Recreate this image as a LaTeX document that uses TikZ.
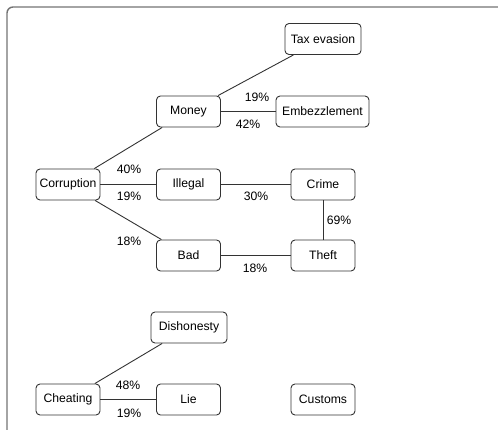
\documentclass[tikz,border=0pt]{standalone}
\usepackage{fontspec}
\setmainfont{Liberation Sans}
\tikzset{
  word/.style={draw=black!80, line width=0.9pt, rounded corners=4pt, minimum width=64pt, minimum height=31pt, inner sep=1pt, font=\fontsize{12.2}{14}\selectfont},
  link/.style={draw=black!80, line width=0.9pt},
  pct/.style={font=\fontsize{12.2}{14}\selectfont}
}
\begin{document}
\begin{tikzpicture}[x=1pt,y=-1pt]
\useasboundingbox (0,0) rectangle (498,430);
\draw[gray!90!black, line width=1.4pt, rounded corners=6pt] (7,431) -- (7,7) -- (499,7);
% nodes
\node[word, minimum width=76pt] (tax) at (323,39) {Tax evasion};
\node[word] (money) at (188.5,111.5) {Money};
\node[word, minimum width=93pt] (embez) at (322.5,111.5) {Embezzlement};
\node[word] (corr) at (68,184.5) {Corruption};
\node[word] (illegal) at (188.5,184.5) {Illegal};
\node[word] (crime) at (323,184.5) {Crime};
\node[word] (bad) at (188.5,255.5) {Bad};
\node[word] (theft) at (323,255.5) {Theft};
\node[word, minimum width=76pt] (dish) at (189,327.5) {Dishonesty};
\node[word] (cheat) at (68,399.5) {Cheating};
\node[word] (lie) at (188.5,399.5) {Lie};
\node[word] (customs) at (323,399.5) {Customs};
% links
\foreach \a/\b in {money/tax,money/embez,corr/money,corr/illegal,corr/bad,illegal/crime,crime/theft,bad/theft,cheat/dish,cheat/lie}
  \draw[link] (\a) -- (\b);
% percentages
\foreach \x/\y/\t in {257/97/19,248/124/42,129/169/40,129/196/19,256/196/30,339/220/69,129/241/18,255/268/18,128/385/48,129/413/19}
  \node[pct] (p\x\y) at (\x,\y) {\t\%};
\end{tikzpicture}
\end{document}
